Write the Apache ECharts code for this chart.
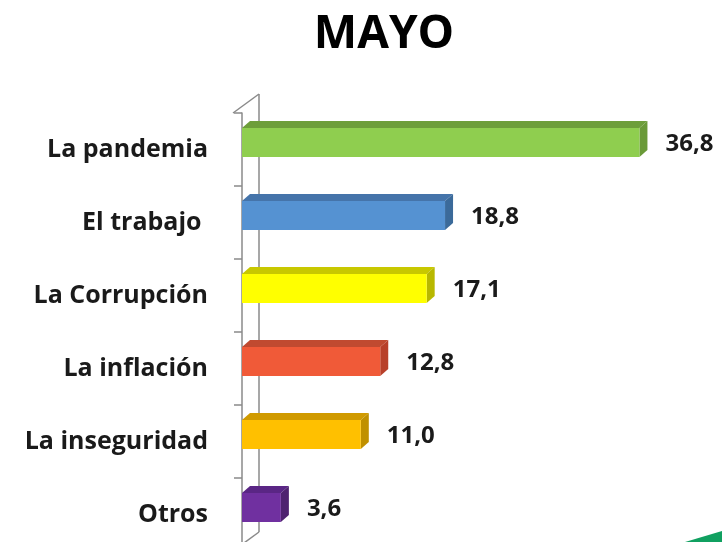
<!DOCTYPE html>
<html>
<head>
<meta charset="utf-8">
<script src="https://cdn.jsdelivr.net/npm/echarts@6/dist/echarts.min.js"></script>
<style>
html,body{margin:0;padding:0;background:#fff;}
#c{width:722px;height:542px;}
</style>
</head>
<body>
<div id="c"></div>
<script>
const titleText = 'MAYO';
const categories = ['La pandemia', 'El trabajo ', 'La Corrupción', 'La inflación', 'La inseguridad', 'Otros'];
const values = [36.8, 18.8, 17.1, 12.8, 11.0, 3.6];
const frontColors = ['#8fce4f', '#5592d2', '#ffff00', '#f05a38', '#ffc000', '#7030a0'];
const topColors = ['#6d9e3a', '#4574aa', '#c8c800', '#c04a30', '#d09a00', '#5a2685'];
const sideColors = ['#6a9a38', '#3b6a9a', '#b8b800', '#b8402a', '#c09000', '#4f2270'];

const FONT = '"Open Sans", "Liberation Sans", sans-serif';
const chart = echarts.init(document.getElementById('c'));

function renderItem(params, api) {
  const v = api.value(0), c = api.value(1);
  const p0 = api.coord([0, c]);
  const p1 = api.coord([v, c]);
  const cy = p0[1] - 7, h = 29, dx = 8, dy = 7;
  const x0 = p0[0], x1 = p1[0], yt = cy - h / 2, yb = cy + h / 2;
  const i = params.dataIndex;
  return {
    type: 'group',
    children: [
      {type: 'polygon', shape: {points: [[x0, yt], [x0 + dx, yt - dy], [x1 + dx, yt - dy], [x1, yt]]}, style: {fill: topColors[i]}},
      {type: 'polygon', shape: {points: [[x1, yt], [x1 + dx, yt - dy], [x1 + dx, yb - dy], [x1, yb]]}, style: {fill: sideColors[i]}},
      {type: 'rect', shape: {x: x0, y: yt, width: x1 - x0, height: h}, style: {fill: frontColors[i]}},
      {type: 'text', style: {text: v.toFixed(1).replace('.', ','), x: x1 + 26, y: cy + 2,
        verticalAlign: 'middle', align: 'left', fill: '#1a1a1a',
        font: 'bold 24px ' + FONT}}
    ]
  };
}

chart.setOption({
  backgroundColor: '#ffffff',
  animation: false,
  grid: {left: 242, top: 113, width: 432, height: 438, outerBoundsMode: 'none', containLabel: false},
  xAxis: {type: 'value', min: 0, max: 40, show: false},
  yAxis: {
    type: 'category', data: categories, inverse: true, offset: 9,
    axisLine: {show: true, lineStyle: {color: '#8a8a8a', width: 1.5}},
    axisTick: {show: true, length: 8, inside: false, lineStyle: {color: '#8a8a8a', width: 1.5}},
    axisLabel: {margin: 25, fontSize: 25, fontWeight: 'bold', fontFamily: FONT, color: '#1a1a1a',
      padding: [9, 0, 0, 0]},
    splitLine: {show: false}
  },
  series: [{
    type: 'custom',
    renderItem: renderItem,
    encode: {x: 0, y: 1},
    data: values.map((v, i) => [v, i]),
    clip: false
  }],
  graphic: [
    {type: 'text', x: 384, y: 35, style: {text: titleText, align: 'center', verticalAlign: 'middle',
      font: 'bold 46px ' + FONT, fill: '#000'}},
    {type: 'line', shape: {x1: 233, y1: 113, x2: 259, y2: 94}, style: {stroke: '#8a8a8a', lineWidth: 1.5}},
    {type: 'line', shape: {x1: 259, y1: 94, x2: 259, y2: 532}, style: {stroke: '#8a8a8a', lineWidth: 1.5}},
    {type: 'line', shape: {x1: 233, y1: 551, x2: 259, y2: 532}, style: {stroke: '#8a8a8a', lineWidth: 1.5}},
    {type: 'polygon', shape: {points: [[685, 542], [722, 531], [722, 542]]}, style: {fill: '#10a060'}}
  ]
});
</script>
</body>
</html>
